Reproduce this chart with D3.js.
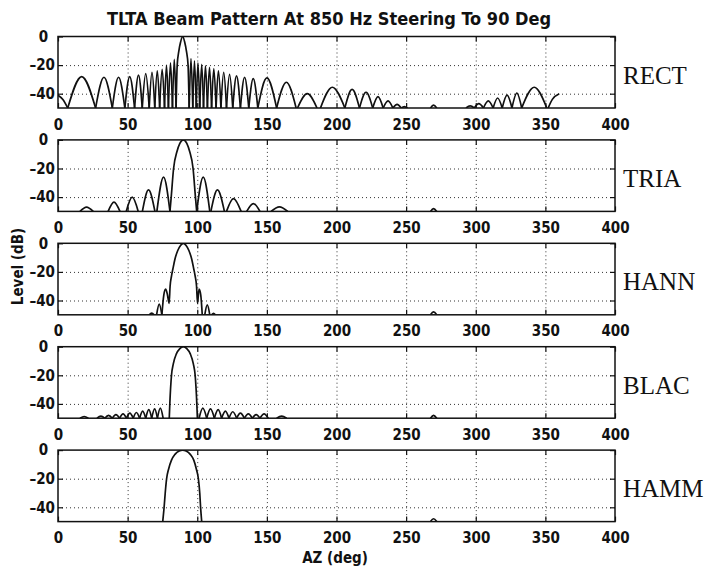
<!DOCTYPE html>
<html>
<head>
<meta charset="utf-8">
<script src="https://cdn.jsdelivr.net/npm/d3@7"></script>
<style>
  body { margin: 0; background: #fff; }
  svg text { font-family: "Liberation Sans Narrow", "Arial Narrow", "DejaVu Sans Condensed", sans-serif; font-weight: bold; fill: #111; }
  .tick text { font-size: 15px; }
  .grid line { stroke: #333; stroke-dasharray: 1,3; stroke-width: 1; }
  .grid .domain { display: none; }
  .ticks .domain { display: none; }
  .ticks line { stroke: #111; stroke-width: 1.2; }
  .win-label { font-family: "Liberation Serif", "Times New Roman", serif !important; font-weight: normal !important; font-size: 25px; }
</style>
</head>
<body>
<svg id="chart" width="710" height="571"></svg>
<script>
var windows = ["RECT", "TRIA", "HANN", "BLAC", "HAMM"];
var xTicks = [0, 50, 100, 150, 200, 250, 300, 350, 400];
var gridX = [50, 100, 150, 200, 250, 300, 350];
var yTicks = [0, -20, -40];
var floorDb = -50;

// [azimuth deg, level dB]; -50 = touches the bottom
var rectPattern = [
  [0, -41], [3.5, -44], [7, -50],
  [17, -28], [27, -50],
  [33, -28.5], [39, -50],
  [43.5, -28.5], [48, -50],
  [51.5, -28], [55, -50],
  [57.8, -27], [60.5, -50],
  [63, -26], [65.5, -50],
  [67.5, -25], [69.5, -50],
  [71.3, -24], [73, -50],
  [74.8, -23], [76.5, -50],
  [77.9, -20], [79.3, -50],
  [80.8, -18.5], [82.2, -50],
  [83.5, -16], [84.8, -50],
  [85.6, -20], [86.8, -10], [88, -4], [89.5, 0], [91, -4], [92.2, -10], [93.4, -20], [94.2, -50],
  [95.5, -15.5], [96.8, -50],
  [98, -17], [99.3, -50],
  [100.5, -18.5], [101.8, -50],
  [103.2, -19.5], [104.5, -50],
  [105.9, -20.5], [107.3, -50],
  [108.8, -21.5], [110.3, -50],
  [111.9, -22.5], [113.5, -50],
  [115.2, -24], [117, -50],
  [119, -25], [121, -50],
  [123.2, -26.5], [125.5, -50],
  [128.2, -27.5], [131, -50],
  [134, -28.5], [137, -50],
  [140.2, -29.5], [143.5, -50],
  [150, -29], [157, -50],
  [164, -32], [171, -50],
  [172, -50], [179, -40], [186, -50],
  [188.5, -50], [197, -35.5], [206, -50],
  [211.2, -37], [216.5, -50],
  [221.2, -39], [226, -50],
  [229.8, -42], [233.5, -50],
  [237, -45], [240.5, -50],
  [243.5, -47.5], [246.5, -50],
  [248.7, -49], [251, -50],
  [267.5, -50], [269.7, -48], [272, -50],
  [293, -50], [296, -48.5], [299, -50],
  [302.2, -47], [305.5, -50],
  [309, -45], [312.5, -50],
  [315.7, -43], [319, -50],
  [322.5, -41], [326, -50],
  [329.5, -39.5], [333, -50],
  [342, -35.5], [351, -50],
  [352, -50], [355, -44], [360, -40]
];

var triaPattern = [
  [15.8, -50], [20.5, -47], [25.3, -50],
  [36, -50], [40.2, -43.5], [44.5, -50],
  [49, -50], [53.3, -40], [57.6, -50],
  [60.6, -50], [65, -35], [69.6, -50],
  [71, -50], [75.8, -26], [80.4, -50],
  [81.3, -40], [83, -20], [85.5, -8], [87.5, -2.5], [90, 0], [92.5, -2.5], [94.5, -8], [97, -20], [98.7, -40], [99.6, -50],
  [104.3, -26], [109, -50],
  [109.8, -50], [114.5, -35], [119.5, -50],
  [121, -50], [126, -41], [131.5, -50],
  [135.5, -50], [140.3, -44.5], [145, -50],
  [153, -50], [159, -46.8], [165, -50],
  [267.5, -50], [269.7, -48], [272, -50]
];

var hannPattern = [
  [65.5, -50], [67.3, -48.8], [69, -50],
  [70.8, -50], [72.7, -42.5], [74.6, -50],
  [76, -36], [77.3, -32], [78.6, -36], [79.8, -42],
  [80.5, -30], [81.5, -23], [82.5, -18], [84, -11], [86, -5], [88, -1.5], [90, 0],
  [92, -1.5], [94, -5], [96, -11], [97.5, -18], [98.5, -23], [99.5, -30],
  [100.2, -42], [101.3, -32], [102.5, -36], [103.6, -50],
  [105.4, -50], [107.2, -43], [109, -50],
  [110.3, -50], [111.7, -49], [113, -50],
  [267.5, -50], [269.7, -48], [272, -50]
];

var blacPattern = [
  [15.8, -50], [18.8, -48.8], [21.8, -50],
  [28, -50], [30.8, -48.5], [33.6, -50], [36.3, -48], [39, -50], [41.6, -47.5], [44.2, -50],
  [46.7, -47], [49.2, -50], [51.6, -46.5], [54, -50], [56.3, -46], [58.6, -50],
  [60.8, -45], [63, -50], [65.2, -44], [67.3, -50], [69.4, -43.5], [71.4, -50], [73.5, -43], [75.5, -50],
  [79.9, -50], [80.3, -40], [81.5, -20], [82.8, -12], [85, -5], [87.5, -1.3], [90, 0],
  [92.5, -1.3], [95, -5], [97.2, -12], [98.5, -20], [99.7, -40], [100.1, -50],
  [101.3, -50], [104, -43], [106.8, -50], [109.5, -43.5], [112.3, -50], [115, -44], [117.5, -50],
  [120.2, -45], [122.8, -50], [125.5, -45.5], [128.3, -50], [131, -46.5], [133.8, -50],
  [136.7, -47], [139.6, -50], [142.3, -47.5], [145, -50], [148, -47], [151, -50],
  [157, -50], [160.6, -48.5], [164.2, -50],
  [267.5, -50], [269.7, -48], [272, -50]
];

var hammPattern = [
  [75.2, -50], [76.2, -40], [77, -30], [78, -20], [79.5, -13], [81.5, -7], [84, -3], [87, -0.6], [89.5, 0],
  [92, -0.6], [95, -3], [97.5, -7], [99.3, -13], [100.8, -20], [101.8, -30], [102.4, -40], [103.2, -50],
  [267.5, -50], [269.7, -48], [272, -50]
];

var patterns = [rectPattern, triaPattern, hannPattern, blacPattern, hammPattern];

var left = 58,
  plotWidth = 557,
  panelTop = 36.5,
  panelStep = 103.4,
  panelHeight = 71.5;

var x = d3.scaleLinear().domain([0, 400]).range([0, plotWidth]);
var y = d3.scaleLinear().domain([-50, 0]).range([panelHeight, 0]);

var svg = d3.select("#chart");

svg.append("defs").append("clipPath")
  .attr("id", "plot-clip")
  .append("rect")
  .attr("width", plotWidth)
  .attr("height", panelHeight);

// break a pattern into lobes at the points where it hits the floor
function splitLobes(pts) {
  var lobes = [], cur = [];
  pts.forEach(function(p) {
    cur.push(p);
    if (p[1] <= floorDb && cur.length > 1) {
      if (cur.some(function(q) { return q[1] > floorDb; })) lobes.push(cur);
      cur = [p];
    }
  });
  if (cur.length > 1) lobes.push(cur);
  return lobes;
}

var line = d3.line()
  .x(function(d) { return x(d[0]); })
  .y(function(d) { return y(d[1]); })
  .curve(d3.curveMonotoneX);

function fmtY(d) {
  if (d < 0) return "\u2013" + Math.abs(d);
  return d + "\u2002";
}

patterns.forEach(function(pts, i) {
  var g = svg.append("g")
    .attr("transform", "translate(" + left + "," + (panelTop + i * panelStep) + ")");

  g.append("g")
    .attr("class", "grid")
    .call(d3.axisBottom(x).tickValues(gridX).tickSize(panelHeight).tickFormat(""));
  g.append("g")
    .attr("class", "grid")
    .call(d3.axisRight(y).tickValues([-20, -40]).tickSize(plotWidth).tickFormat(""));

  g.append("g")
    .attr("clip-path", "url(#plot-clip)")
    .selectAll("path")
    .data(splitLobes(pts))
    .enter().append("path")
    .attr("d", line)
    .attr("fill", "none")
    .attr("stroke", "#111")
    .attr("stroke-width", 1.7)
    .attr("stroke-linejoin", "round");

  g.append("g")
    .attr("class", "ticks")
    .attr("transform", "translate(0," + panelHeight + ")")
    .call(d3.axisBottom(x).tickValues(xTicks).tickSize(-5).tickPadding(11).tickFormat(d3.format("d")));
  g.append("g")
    .attr("class", "ticks")
    .call(d3.axisTop(x).tickValues(xTicks).tickSize(-5).tickFormat(""));
  g.append("g")
    .attr("class", "ticks")
    .call(d3.axisLeft(y).tickValues(yTicks).tickSize(-5).tickPadding(3).tickFormat(fmtY));
  g.append("g")
    .attr("class", "ticks")
    .attr("transform", "translate(" + plotWidth + ",0)")
    .call(d3.axisRight(y).tickValues(yTicks).tickSize(-5).tickFormat(""));

  g.append("rect")
    .attr("width", plotWidth)
    .attr("height", panelHeight)
    .attr("fill", "none")
    .attr("stroke", "#111")
    .attr("stroke-width", 1.5);

  g.append("text")
    .attr("class", "win-label")
    .attr("x", plotWidth + 8)
    .attr("y", 47)
    .text(windows[i]);
});

svg.append("text")
  .attr("x", 329)
  .attr("y", 25)
  .attr("text-anchor", "middle")
  .style("font-size", "18px")
  .text("TLTA Beam Pattern At 850 Hz Steering To 90 Deg");

svg.append("text")
  .attr("transform", "translate(23,266.5) rotate(-90)")
  .attr("text-anchor", "middle")
  .style("font-size", "15px")
  .text("Level (dB)");

svg.append("text")
  .attr("x", 335)
  .attr("y", 563)
  .attr("text-anchor", "middle")
  .style("font-size", "15px")
  .text("AZ (deg)");
</script>
</body>
</html>
